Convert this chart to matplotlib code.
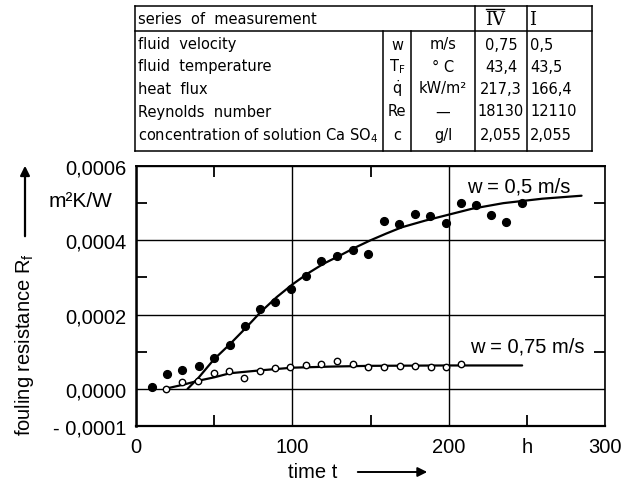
import matplotlib
matplotlib.use('Agg')
import matplotlib.pyplot as plt
from matplotlib.ticker import FixedLocator, FixedFormatter, NullFormatter

# ---------------- data ----------------
t_filled = [10, 20, 29.5, 40, 50, 60, 69.5, 79, 89, 99, 108.5, 118.5, 128.5,
            138.6, 148.5, 158.6, 168, 178.3, 188, 198, 207.6, 217.3, 226.8, 236.7, 246.8]
rf_filled = [0.000006, 0.00004, 0.000052, 0.000062, 0.000082, 0.000117, 0.000168,
             0.000214, 0.000234, 0.00027, 0.000305, 0.000344, 0.000358, 0.000373,
             0.000364, 0.000451, 0.000443, 0.000472, 0.000465, 0.000447, 0.000501,
             0.000496, 0.000467, 0.000449, 0.0005]

t_open = [19.4, 29.5, 39.9, 50, 59.5, 69.4, 79.5, 89, 98.5, 108.6, 118.3, 128.5,
          138.6, 148.5, 158.6, 168.7, 178.3, 188.8, 198.3, 207.6]
rf_open = [0.0, 0.000018, 0.000022, 0.000042, 0.000049, 0.00003, 0.000048, 0.000055,
           0.00006, 0.000064, 0.000068, 0.000076, 0.000066, 0.00006, 0.00006,
           0.000062, 0.000062, 0.000058, 0.000058, 0.000068]

t_fit_filled = [33, 40, 50, 60, 70, 80, 90, 100, 110, 120, 130, 140, 150, 160, 170,
                185, 200, 215, 235, 260, 285]
rf_fit_filled = [0.0, 0.00003, 0.00008, 0.00012, 0.000163, 0.000208, 0.000247,
                 0.000281, 0.000311, 0.000337, 0.000358, 0.00038, 0.0004, 0.000418,
                 0.000435, 0.000453, 0.000469, 0.000485, 0.0005, 0.000512, 0.00052]

t_fit_open = [18.4, 30, 40, 50, 60, 80, 100, 125, 150, 200, 247]
rf_fit_open = [0.0, 0.000011, 0.000022, 0.000031, 0.000042, 0.00005, 0.000057,
               0.00006, 0.000062, 0.000063, 0.000063]

label_filled = "w = 0,5 m/s"
label_open = "w = 0,75 m/s"

x_major = [0, 100, 200, 300]
x_major_labels = ["0", "100", "200", "300"]
x_minor = [50, 150, 250]
x_minor_labels = ["", "", "h"]
y_major = [-0.0001, 0.0, 0.0002, 0.0004, 0.0006]
y_major_labels = ["- 0,0001", "0,0000", "0,0002", "0,0004", "0,0006"]
y_minor = [0.0001, 0.0003, 0.0005]

table_rows = ["fluid  velocity", "fluid  temperature", "heat  flux",
              "Reynolds  number", "concentration of solution Ca SO$_4$"]
table_symbols = ["w", r"$\mathrm{T_F}$", r"$\dot{\mathrm{q}}$", "Re", "c"]
table_units = ["m/s", "° C", "kW/m²", "—", "g/l"]
table_IV = ["0,75", "43,4", "217,3", "18130", "2,055"]
table_I = ["0,5", "43,5", "166,4", "12110", "2,055"]

# ---------------- figure ----------------
W, H = 630, 485
fig = plt.figure(figsize=(W / 100, H / 100), dpi=100)
plt.rcParams['font.family'] = ['Liberation Sans', 'DejaVu Sans']

# overlay in pixel coordinates for table / axis labels
ov = fig.add_axes([0, 0, 1, 1])
ov.set_xlim(0, W)
ov.set_ylim(H, 0)
ov.axis('off')
ov.patch.set_alpha(0)

ax = fig.add_axes([136 / W, 1 - 427 / H, 469 / W, 260 / H])
ax.set_xlim(0, 300)
ax.set_ylim(-0.0001, 0.0006)

for s in ax.spines.values():
    s.set_linewidth(1.2)
ax.spines['left'].set_linewidth(1.8)
ax.spines['bottom'].set_linewidth(1.6)

ax.xaxis.set_major_locator(FixedLocator(x_major))
ax.xaxis.set_major_formatter(FixedFormatter(x_major_labels))
ax.xaxis.set_minor_locator(FixedLocator(x_minor))
ax.xaxis.set_minor_formatter(FixedFormatter(x_minor_labels))
ax.yaxis.set_major_locator(FixedLocator(y_major))
ax.yaxis.set_major_formatter(FixedFormatter(y_major_labels))
ax.yaxis.set_minor_locator(FixedLocator(y_minor))
ax.yaxis.set_minor_formatter(NullFormatter())

ax.tick_params(axis='both', which='major', length=0, labelsize=14.5)
ax.tick_params(axis='x', which='major', pad=8)
ax.tick_params(axis='y', which='major', pad=7)
ax.tick_params(axis='x', which='minor', direction='in', length=8, width=1.3,
               labelsize=14.5, pad=8, bottom=True, top=False)
ax.tick_params(axis='y', which='minor', direction='in', length=8, width=1.3,
               left=True, right=True)

sec = ax.secondary_xaxis('top')
sec.set_xticks([50, 150])
sec.set_xticklabels(["", ""])
sec.tick_params(direction='in', length=8, width=1.3)
sec.spines['top'].set_linewidth(1.2)

ax.grid(True, which='major', color='black', linewidth=1.0)

ax.plot(t_fit_filled, rf_fit_filled, color='black', lw=1.6, solid_capstyle='round', zorder=3)
ax.plot(t_fit_open, rf_fit_open, color='black', lw=1.6, solid_capstyle='round', zorder=3)
ax.plot(t_filled, rf_filled, 'o', color='black', ms=5.6, zorder=4)
ax.plot(t_open, rf_open, 'o', mfc='white', mec='black', mew=1.0, ms=4.6, zorder=4)

ax.text(212, 0.000547, label_filled, fontsize=14.5, va='center', ha='left', zorder=5)
ax.text(213.5, 0.000115, label_open, fontsize=14.5, va='center', ha='left', zorder=5)

# axis labels (pixel overlay)
ov.text(25, 345, "fouling resistance R$_\\mathregular{f}$", rotation=90, fontsize=14.5,
        ha='center', va='center')
ov.annotate("", xy=(25, 164), xytext=(25, 240),
            arrowprops=dict(arrowstyle='-|>', color='black', lw=1.6, mutation_scale=14))
ov.text(81, 202, "m²K/W", fontsize=15, ha='center', va='center')
ov.text(288, 473, "time t", fontsize=14.5, ha='left', va='center')
ov.annotate("", xy=(430, 473), xytext=(355, 473),
            arrowprops=dict(arrowstyle='-|>', color='black', lw=1.4, mutation_scale=14))

# ---------------- table ----------------
tl, tr, tt, th, tb = 135, 592, 7, 32, 152
lwt = 1.1
ov.plot([tl, tr], [tt, tt], color='black', lw=lwt)
ov.plot([tl, tr], [th, th], color='black', lw=lwt)
ov.plot([tl, tr], [tb, tb], color='black', lw=lwt)
ov.plot([tl, tl], [tt, tb], color='black', lw=lwt)
ov.plot([tr, tr], [tt, tb], color='black', lw=lwt)
for xv in (383, 411):
    ov.plot([xv, xv], [th, tb], color='black', lw=lwt)
for xv in (475, 527):
    ov.plot([xv, xv], [tt, tb], color='black', lw=lwt)

fs_t = 10.5
tfam = ['DejaVu Sans']
ov.text(138, 20, "series  of  measurement", fontsize=fs_t, family=tfam, ha='left', va='center')
ov.text(495, 20, "IV", fontsize=13, family=['DejaVu Serif'], ha='center', va='center')
ov.plot([486, 504], [10, 10], color='black', lw=1.0)
ov.text(533, 20, "I", fontsize=13, family=['DejaVu Serif'], ha='center', va='center')

row_y = [45, 67, 89, 112, 136]
for i, yv in enumerate(row_y):
    ov.text(138, yv, table_rows[i], fontsize=fs_t, family=tfam, ha='left', va='center')
    ov.text(397, yv, table_symbols[i], fontsize=fs_t, family=tfam, ha='center', va='center')
    ov.text(443, yv, table_units[i], fontsize=fs_t, family=tfam, ha='center', va='center')
    ov.text(501, yv, table_IV[i], fontsize=fs_t, family=tfam, ha='center', va='center')
    ov.text(530, yv, table_I[i], fontsize=fs_t, family=tfam, ha='left', va='center')

fig.savefig("out.png", dpi=100)
